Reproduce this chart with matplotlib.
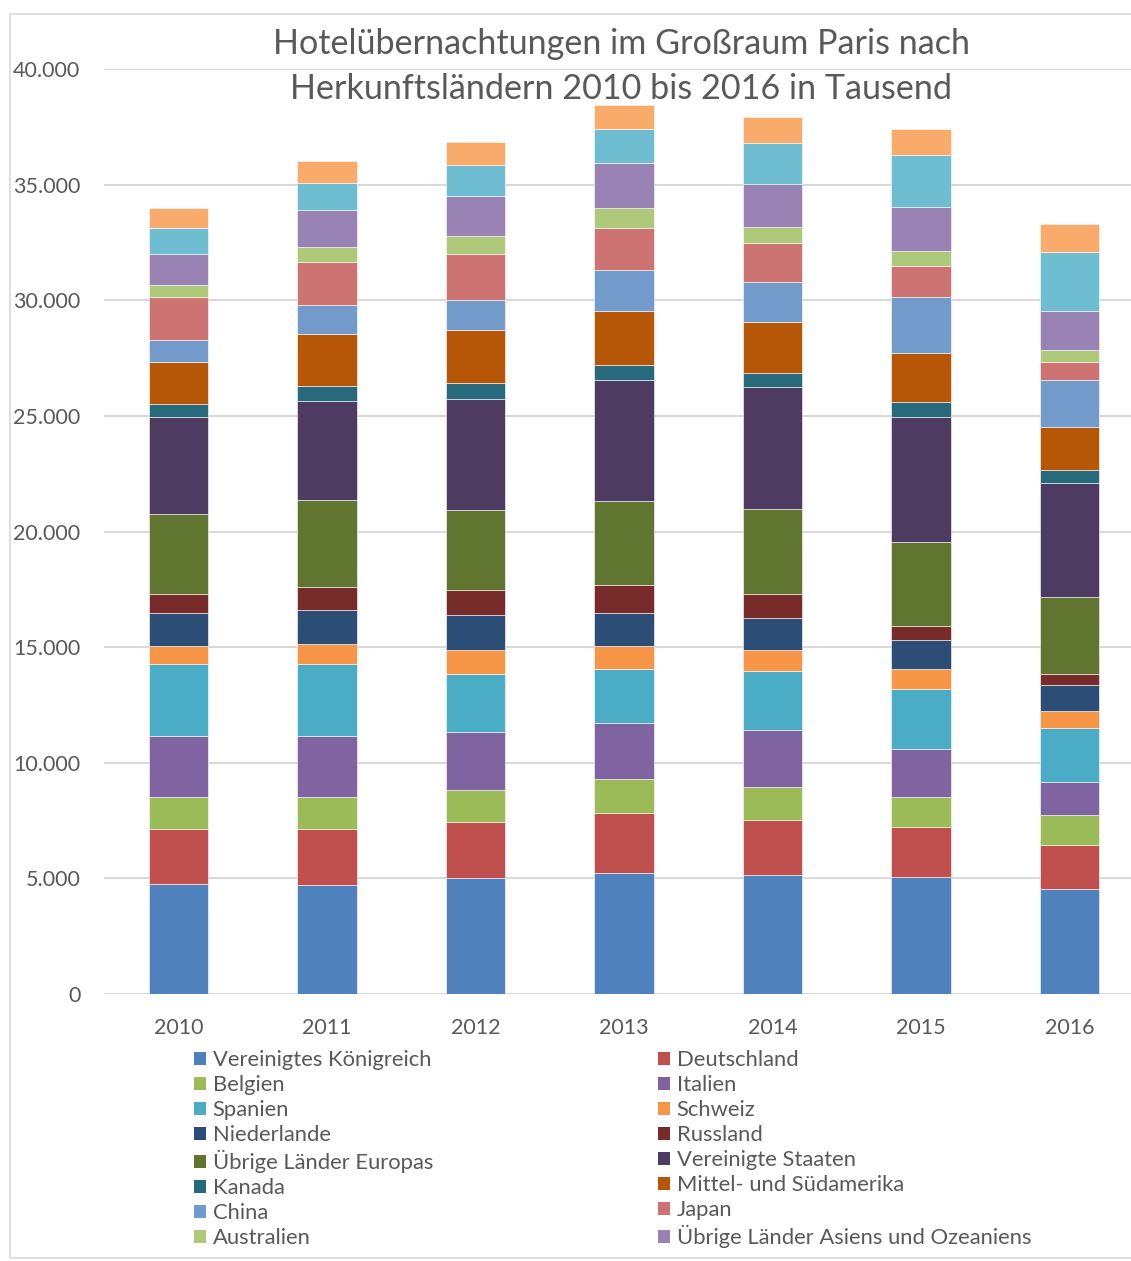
import matplotlib
matplotlib.use('Agg')
import matplotlib.pyplot as plt
from matplotlib.patches import Rectangle, Patch
from matplotlib.ticker import FuncFormatter
import numpy as np

plt.rcParams['font.family'] = ['Lato', 'DejaVu Sans']

# Daten (in Tausend)
jahre = ['2010', '2011', '2012', '2013', '2014', '2015', '2016']

laender = ['Vereinigtes Königreich', 'Deutschland', 'Belgien', 'Italien',
           'Spanien', 'Schweiz', 'Niederlande', 'Russland',
           'Übrige Länder Europas', 'Vereinigte Staaten', 'Kanada',
           'Mittel- und Südamerika', 'China', 'Japan', 'Australien',
           'Übrige Länder Asiens und Ozeaniens',
           'Naher und Mittlerer Osten', 'Afrika']

vereinigtes_koenigreich = [4740, 4730, 5030, 5220, 5130, 5050, 4540]
deutschland = [2400, 2410, 2420, 2620, 2390, 2180, 1920]
belgien = [1380, 1380, 1370, 1440, 1430, 1310, 1280]
italien = [2650, 2620, 2490, 2420, 2480, 2050, 1410]
spanien = [3110, 3110, 2540, 2350, 2530, 2620, 2370]
schweiz = [790, 880, 1040, 1020, 910, 850, 720]
niederlande = [1390, 1460, 1490, 1390, 1380, 1230, 1120]
russland = [850, 1010, 1110, 1210, 1050, 640, 460]
uebrige_europa = [3450, 3760, 3450, 3630, 3680, 3620, 3330]
usa = [4170, 4300, 4810, 5230, 5260, 5410, 4960]
kanada = [580, 650, 670, 680, 610, 650, 530]
mittel_suedamerika = [1800, 2210, 2280, 2340, 2210, 2100, 1870]
china = [970, 1270, 1330, 1760, 1720, 2450, 2020]
japan = [1870, 1850, 1990, 1830, 1690, 1310, 780]
australien = [520, 660, 750, 840, 680, 680, 530]
uebrige_asien = [1310, 1600, 1750, 1950, 1870, 1870, 1700]
naher_osten = [1130, 1180, 1330, 1460, 1770, 2240, 2550]
afrika = [880, 920, 980, 1070, 1140, 1140, 1210]

werte = [vereinigtes_koenigreich, deutschland, belgien, italien, spanien,
         schweiz, niederlande, russland, uebrige_europa, usa, kanada,
         mittel_suedamerika, china, japan, australien, uebrige_asien,
         naher_osten, afrika]

farben = ['#4F81BD', '#C0504D', '#9BBB59', '#8064A2', '#4BACC6', '#F79646',
          '#2C4D75', '#772C2A', '#5F7530', '#4D3B62', '#276A7C', '#B65708',
          '#729ACA', '#CD7371', '#AFC97A', '#9983B5', '#6FBDD1', '#F9AB6B']

W, H = 1131, 1261
fig = plt.figure(figsize=(W / 100, H / 100), dpi=100)

# Diagrammrahmen (rechts abgeschnitten)
fig.patches.append(Rectangle((10 / W, 1 - 1258 / H), 1140 / W, (1258 - 14) / H,
                             transform=fig.transFigure, fill=False,
                             edgecolor='#d9d9d9', linewidth=1.2))

# Plotbereich: x 104..1144, y 69..994
ax = fig.add_axes([104 / W, 1 - 994 / H, 1040 / W, 925 / H])

x = np.arange(len(jahre))
unten = np.zeros(len(jahre))
for name, vals, farbe in zip(laender, werte, farben):
    ax.bar(x, vals, width=0.4, bottom=unten, color=farbe,
           edgecolor='white', linewidth=0.4, zorder=3)
    unten += np.array(vals)

ax.set_xlim(-0.5, 6.5)
ax.set_ylim(0, 40000)
ax.set_yticks(range(0, 40001, 5000))
ax.yaxis.set_major_formatter(FuncFormatter(lambda v, p: f'{int(v):,}'.replace(',', '.')))
ax.set_xticks(x)
ax.set_xticklabels(jahre)
ax.grid(axis='y', color='#d9d9d9', linewidth=1.5, zorder=0)
for s in ax.spines.values():
    s.set_visible(False)
ax.tick_params(length=0, colors='#595959', labelsize=15.5)
ax.tick_params(axis='y', pad=17)
ax.tick_params(axis='x', pad=17)

fig.text(621 / W, 1 - 44 / H, 'Hotelübernachtungen im Großraum Paris nach',
         ha='center', va='center', fontsize=24.6, color='#595959')
fig.text(621 / W, 1 - 89 / H, 'Herkunftsländern 2010 bis 2016 in Tausend',
         ha='center', va='center', fontsize=24.6, color='#595959')

# Legende: zeilenweise gefuellt, nur die ersten 16 Eintraege sichtbar
handles = [Patch(facecolor=f, edgecolor='none') for f in farben[:16]]
namen = laender[:16]
for spalte, x0 in [(0, 194), (1, 658)]:
    idx = list(range(spalte, 16, 2))
    fig.legend([handles[i] for i in idx], [namen[i] for i in idx],
               loc='upper left', bbox_to_anchor=(x0 / W, 1 - 1050 / H),
               frameon=False, fontsize=15.8, labelcolor='#595959',
               handlelength=0.55, handleheight=0.55, handletextpad=0.3,
               labelspacing=0.23, borderaxespad=0, borderpad=0)

fig.savefig('out.png', dpi=100)
